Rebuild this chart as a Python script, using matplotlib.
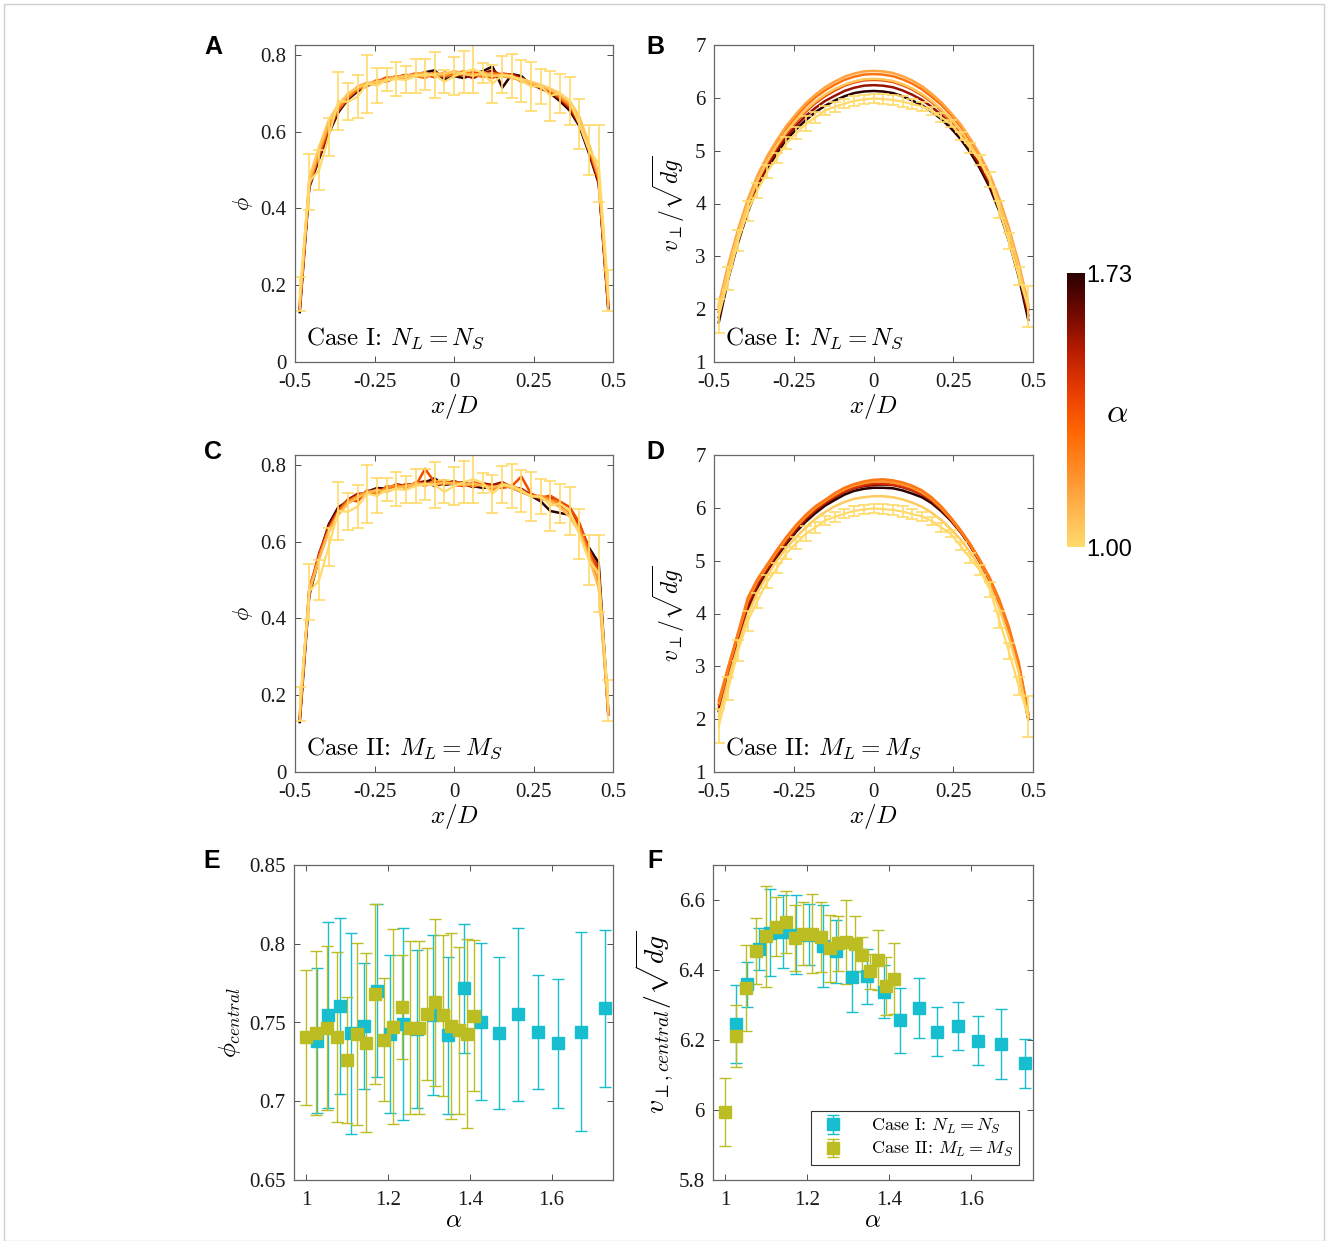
import numpy as np
import matplotlib
matplotlib.use("Agg")
import matplotlib.pyplot as plt
from matplotlib.colors import LinearSegmentedColormap, Normalize
from matplotlib.cm import ScalarMappable
from matplotlib.patches import Rectangle

plt.rcParams['mathtext.fontset'] = 'cm'
plt.rcParams['font.family'] = ['Liberation Serif', 'DejaVu Serif']

# ---- profile data (x/D grid) ----
x_pos = [-0.485, -0.455, -0.424, -0.394, -0.364, -0.333, -0.303, -0.273, -0.242, -0.212,
         -0.182, -0.152, -0.121, -0.091, -0.061, -0.030, 0.000, 0.030, 0.061, 0.091,
         0.121, 0.152, 0.182, 0.212, 0.242, 0.273, 0.303, 0.333, 0.364, 0.394,
         0.424, 0.455, 0.485]

# monodisperse reference (alpha = 1), same for both cases
phi_ref = [0.177, 0.47, 0.50, 0.587, 0.68, 0.678, 0.692, 0.725, 0.72, 0.735, 0.737, 0.735, 0.745,
           0.75, 0.748, 0.73, 0.745, 0.755, 0.763, 0.753, 0.725, 0.749, 0.745, 0.733, 0.718,
           0.718, 0.694, 0.70, 0.68, 0.62, 0.552, 0.518, 0.187]
phi_ref_err = [0.045, 0.073, 0.052, 0.05, 0.076, 0.048, 0.055, 0.075, 0.045, 0.03, 0.045, 0.035,
               0.045, 0.04, 0.06, 0.03, 0.05, 0.055, 0.063, 0.025, 0.05, 0.049, 0.058, 0.055,
               0.063, 0.045, 0.065, 0.05, 0.062, 0.065, 0.065, 0.10, 0.053]
v_ref = [1.87, 2.58, 3.30, 3.86, 4.24, 4.60, 4.86, 5.14, 5.33, 5.51, 5.63, 5.76, 5.83, 5.89, 5.94,
         5.97, 5.99, 5.975, 5.96, 5.93, 5.88, 5.84, 5.75, 5.63, 5.51, 5.28, 5.05, 4.82, 4.46,
         3.88, 3.29, 2.63, 2.05]
v_ref_err = [0.33, 0.22, 0.2, 0.19, 0.14, 0.12, 0.1, 0.11, 0.11, 0.14, 0.11, 0.09, 0.09, 0.085,
             0.09, 0.08, 0.09, 0.09, 0.09, 0.1, 0.09, 0.085, 0.08, 0.085, 0.07, 0.08, 0.1, 0.1,
             0.14, 0.16, 0.16, 0.17, 0.38]

# case I (N_L = N_S), listed from largest alpha to smallest
alpha_prof1 = [1.73, 1.57, 1.39, 1.27, 1.14, 1.054]
phi_case1 = [
    [0.13, 0.455, 0.53, 0.595, 0.65, 0.685, 0.705, 0.72, 0.73, 0.738, 0.742, 0.748, 0.745, 0.755, 0.76, 0.735, 0.745, 0.74, 0.75, 0.758, 0.77, 0.715, 0.75, 0.745, 0.722, 0.715, 0.70, 0.68, 0.655, 0.615, 0.545, 0.465, 0.14],
    [0.14, 0.46, 0.535, 0.60, 0.655, 0.69, 0.708, 0.725, 0.728, 0.735, 0.745, 0.74, 0.748, 0.752, 0.745, 0.742, 0.755, 0.748, 0.74, 0.752, 0.76, 0.745, 0.75, 0.74, 0.725, 0.712, 0.702, 0.685, 0.66, 0.62, 0.55, 0.47, 0.14],
    [0.14, 0.465, 0.54, 0.61, 0.655, 0.688, 0.71, 0.72, 0.73, 0.742, 0.738, 0.745, 0.752, 0.748, 0.742, 0.755, 0.745, 0.75, 0.755, 0.748, 0.74, 0.752, 0.748, 0.735, 0.722, 0.718, 0.705, 0.688, 0.665, 0.625, 0.555, 0.475, 0.15],
    [0.15, 0.46, 0.545, 0.615, 0.66, 0.69, 0.712, 0.722, 0.735, 0.73, 0.742, 0.748, 0.745, 0.74, 0.755, 0.745, 0.75, 0.758, 0.75, 0.742, 0.752, 0.75, 0.745, 0.73, 0.728, 0.715, 0.71, 0.69, 0.668, 0.628, 0.56, 0.48, 0.15],
    [0.15, 0.47, 0.55, 0.62, 0.665, 0.695, 0.718, 0.728, 0.725, 0.738, 0.745, 0.74, 0.75, 0.755, 0.745, 0.748, 0.758, 0.752, 0.745, 0.755, 0.748, 0.745, 0.74, 0.735, 0.725, 0.72, 0.708, 0.695, 0.672, 0.635, 0.565, 0.485, 0.16],
    [0.16, 0.48, 0.56, 0.63, 0.67, 0.70, 0.715, 0.725, 0.73, 0.735, 0.74, 0.745, 0.748, 0.745, 0.75, 0.752, 0.755, 0.75, 0.748, 0.75, 0.745, 0.748, 0.742, 0.738, 0.73, 0.722, 0.712, 0.70, 0.68, 0.64, 0.57, 0.49, 0.17],
]
v_case1 = [
    [1.75, 2.58, 3.27, 3.84, 4.29, 4.65, 4.95, 5.2, 5.41, 5.58, 5.73, 5.85, 5.95, 6.03, 6.09, 6.12, 6.13, 6.12, 6.09, 6.03, 5.95, 5.86, 5.74, 5.6, 5.43, 5.22, 4.97, 4.67, 4.31, 3.86, 3.3, 2.62, 1.8],
    [1.85, 2.65, 3.33, 3.9, 4.35, 4.71, 5.01, 5.26, 5.48, 5.66, 5.81, 5.94, 6.04, 6.13, 6.19, 6.23, 6.24, 6.23, 6.2, 6.14, 6.06, 5.96, 5.83, 5.68, 5.5, 5.28, 5.03, 4.73, 4.37, 3.92, 3.37, 2.69, 1.88],
    [1.95, 2.72, 3.4, 3.96, 4.41, 4.77, 5.07, 5.33, 5.55, 5.74, 5.9, 6.03, 6.14, 6.23, 6.29, 6.33, 6.34, 6.33, 6.3, 6.24, 6.16, 6.05, 5.92, 5.76, 5.57, 5.35, 5.09, 4.79, 4.43, 3.98, 3.43, 2.76, 1.98],
    [2.05, 2.8, 3.47, 4.03, 4.48, 4.85, 5.15, 5.42, 5.65, 5.85, 6.01, 6.14, 6.25, 6.34, 6.4, 6.44, 6.45, 6.44, 6.41, 6.35, 6.27, 6.16, 6.02, 5.87, 5.68, 5.46, 5.19, 4.89, 4.52, 4.06, 3.51, 2.84, 2.05],
    [2.1, 2.85, 3.52, 4.08, 4.53, 4.9, 5.2, 5.47, 5.7, 5.9, 6.06, 6.2, 6.31, 6.4, 6.46, 6.5, 6.51, 6.5, 6.47, 6.41, 6.33, 6.22, 6.08, 5.92, 5.72, 5.5, 5.23, 4.93, 4.56, 4.1, 3.55, 2.88, 2.1],
    [2.0, 2.75, 3.42, 3.98, 4.43, 4.8, 5.1, 5.36, 5.58, 5.77, 5.93, 6.06, 6.17, 6.25, 6.31, 6.35, 6.36, 6.35, 6.32, 6.26, 6.18, 6.07, 5.94, 5.78, 5.6, 5.38, 5.12, 4.82, 4.46, 4.01, 3.46, 2.79, 2.02],
]

# case II (M_L = M_S), largest alpha first
alpha_prof2_phi = [1.411, 1.315, 1.212, 1.123, 1.05]
phi_case2 = [
    [0.13, 0.46, 0.56, 0.645, 0.69, 0.705, 0.72, 0.73, 0.74, 0.738, 0.745, 0.748, 0.75, 0.755, 0.765, 0.748, 0.752, 0.755, 0.745, 0.74, 0.745, 0.75, 0.74, 0.73, 0.72, 0.705, 0.68, 0.675, 0.67, 0.645, 0.585, 0.545, 0.16],
    [0.14, 0.47, 0.57, 0.64, 0.685, 0.71, 0.725, 0.725, 0.738, 0.735, 0.75, 0.745, 0.752, 0.758, 0.745, 0.752, 0.758, 0.75, 0.742, 0.752, 0.748, 0.755, 0.742, 0.738, 0.722, 0.71, 0.715, 0.695, 0.68, 0.64, 0.575, 0.53, 0.15],
    [0.14, 0.48, 0.565, 0.635, 0.68, 0.71, 0.705, 0.735, 0.72, 0.745, 0.74, 0.75, 0.745, 0.79, 0.755, 0.76, 0.748, 0.745, 0.755, 0.748, 0.745, 0.74, 0.745, 0.77, 0.725, 0.715, 0.72, 0.705, 0.69, 0.65, 0.58, 0.52, 0.15],
    [0.15, 0.475, 0.56, 0.63, 0.675, 0.705, 0.72, 0.73, 0.728, 0.74, 0.748, 0.74, 0.755, 0.745, 0.76, 0.75, 0.755, 0.752, 0.745, 0.75, 0.735, 0.752, 0.745, 0.735, 0.718, 0.72, 0.71, 0.70, 0.675, 0.635, 0.57, 0.49, 0.16],
    [0.15, 0.47, 0.555, 0.625, 0.67, 0.70, 0.715, 0.728, 0.735, 0.73, 0.74, 0.745, 0.75, 0.752, 0.748, 0.755, 0.75, 0.748, 0.752, 0.745, 0.742, 0.748, 0.74, 0.73, 0.72, 0.715, 0.705, 0.69, 0.665, 0.625, 0.56, 0.48, 0.16],
]
alpha_prof2_v = [1.411, 1.334, 1.254, 1.10, 1.147, 1.025]
v_case2 = [
    [2.15, 2.85, 3.5, 4.08, 4.48, 4.8, 5.07, 5.32, 5.55, 5.74, 5.9, 6.04, 6.15, 6.25, 6.32, 6.36, 6.38, 6.38, 6.37, 6.33, 6.27, 6.2, 6.09, 5.94, 5.76, 5.54, 5.28, 4.98, 4.62, 4.18, 3.63, 2.95, 2.0],
    [2.2, 2.9, 3.55, 4.12, 4.52, 4.83, 5.1, 5.35, 5.58, 5.78, 5.94, 6.08, 6.2, 6.3, 6.37, 6.41, 6.43, 6.44, 6.43, 6.39, 6.33, 6.25, 6.13, 5.97, 5.78, 5.55, 5.29, 4.99, 4.63, 4.2, 3.66, 2.98, 2.02],
    [2.28, 2.95, 3.6, 4.2, 4.58, 4.87, 5.14, 5.39, 5.62, 5.81, 5.97, 6.1, 6.22, 6.31, 6.38, 6.43, 6.46, 6.46, 6.44, 6.4, 6.34, 6.26, 6.14, 5.98, 5.78, 5.55, 5.29, 4.99, 4.64, 4.22, 3.7, 3.03, 2.08],
    [2.3, 2.97, 3.62, 4.25, 4.62, 4.9, 5.17, 5.42, 5.65, 5.84, 6.0, 6.13, 6.25, 6.35, 6.42, 6.47, 6.5, 6.5, 6.48, 6.44, 6.38, 6.29, 6.17, 6.0, 5.8, 5.56, 5.3, 5.0, 4.65, 4.24, 3.72, 3.05, 2.1],
    [2.35, 3.0, 3.65, 4.3, 4.65, 4.93, 5.2, 5.45, 5.68, 5.87, 6.03, 6.15, 6.28, 6.38, 6.45, 6.5, 6.53, 6.54, 6.52, 6.48, 6.42, 6.33, 6.2, 6.03, 5.82, 5.58, 5.32, 5.02, 4.68, 4.27, 3.75, 3.08, 2.12],
    [2.05, 2.75, 3.4, 3.98, 4.4, 4.72, 5.0, 5.24, 5.45, 5.63, 5.79, 5.92, 6.03, 6.11, 6.17, 6.2, 6.22, 6.22, 6.2, 6.16, 6.1, 6.02, 5.91, 5.77, 5.6, 5.4, 5.16, 4.88, 4.53, 4.1, 3.56, 2.9, 2.0],
]

# ---- central values vs alpha ----
alpha1 = [1.027, 1.054, 1.082, 1.110, 1.140, 1.173, 1.205, 1.237, 1.270, 1.309, 1.346, 1.386,
          1.427, 1.471, 1.517, 1.566, 1.616, 1.671, 1.730]
phic1 = [0.7383, 0.7550, 0.7605, 0.7431, 0.7478, 0.7702, 0.7427, 0.7493, 0.746, 0.7548, 0.7419,
         0.7717, 0.7505, 0.7433, 0.7552, 0.7440, 0.7368, 0.7442, 0.7590]
phic1_err = [0.046, 0.059, 0.056, 0.064, 0.040, 0.055, 0.050, 0.061, 0.05, 0.051, 0.050, 0.041,
             0.050, 0.048, 0.055, 0.036, 0.041, 0.063, 0.050]
vc1 = [6.245, 6.359, 6.461, 6.507, 6.510, 6.501, 6.501, 6.469, 6.453, 6.379, 6.382, 6.338, 6.256,
       6.292, 6.223, 6.240, 6.198, 6.188, 6.134]
vc1_err = [0.112, 0.065, 0.060, 0.125, 0.104, 0.112, 0.088, 0.117, 0.089, 0.100, 0.079, 0.076,
           0.093, 0.085, 0.070, 0.069, 0.070, 0.100, 0.070]

alpha2 = [1.0, 1.025, 1.05, 1.075, 1.10, 1.123, 1.147, 1.169, 1.19, 1.212, 1.233, 1.254, 1.275,
          1.295, 1.315, 1.334, 1.353, 1.373, 1.392, 1.411]
phic2 = [0.7406, 0.7435, 0.7463, 0.7406, 0.7262, 0.7427, 0.7372, 0.7681, 0.7391, 0.7474, 0.7601,
         0.7467, 0.7467, 0.7556, 0.7630, 0.7545, 0.7478, 0.7452, 0.7427, 0.7543]
phic2_err = [0.043, 0.052, 0.052, 0.054, 0.040, 0.058, 0.057, 0.057, 0.039, 0.062, 0.033, 0.055,
             0.055, 0.042, 0.053, 0.051, 0.059, 0.053, 0.060, 0.048]
vc2 = [5.994, 6.212, 6.349, 6.455, 6.496, 6.524, 6.537, 6.491, 6.504, 6.504, 6.493, 6.462, 6.476,
       6.480, 6.475, 6.444, 6.396, 6.428, 6.354, 6.375]
vc2_err = [0.098, 0.089, 0.122, 0.095, 0.145, 0.084, 0.088, 0.094, 0.090, 0.113, 0.10, 0.096,
           0.079, 0.119, 0.079, 0.050, 0.049, 0.086, 0.082, 0.102]

cmap = LinearSegmentedColormap.from_list(
    "alpha", ["#FFDA6A", "#FFB24C", "#FF8A24", "#FF6400", "#E83C00", "#B81C00", "#700800", "#2A0000"])

W, H = 1328, 1241
fig = plt.figure(figsize=(W / 100, H / 100), dpi=100)
fig.patches.append(Rectangle((4 / W, 0), 1 - 8 / W, 1 - 4 / H, transform=fig.transFigure,
                             fill=False, edgecolor="#d0d0d0", lw=1.0))


def px_axes(l, t, r, b):
    return fig.add_axes([l / W, 1 - b / H, (r - l) / W, (b - t) / H])


def style(ax):
    ax.tick_params(direction="in", top=True, right=True, length=4, width=0.6,
                   colors="#333333", labelsize=15)
    ax.tick_params(axis="x", pad=8)
    ax.tick_params(axis="y", pad=6)
    ax.tick_params(labelcolor="#1a1a1a")
    for s in ax.spines.values():
        s.set_linewidth(0.9)
        s.set_color("#666666")


def profile(ax, alphas, curves, amax, ref, ref_err, ylim, yticks, ylabel, note):
    for a, c in zip(alphas, curves):
        ax.plot(x_pos, c, color=cmap((a - 1) / (amax - 1)), lw=1.8)
    ax.errorbar(x_pos, ref, yerr=ref_err, color=cmap(0.0), lw=1.6, elinewidth=1.2, capsize=4,
                capthick=1.2)
    ax.set_xlim(-0.5, 0.5)
    ax.set_ylim(*ylim)
    ax.set_xticks([-0.5, -0.25, 0, 0.25, 0.5])
    ax.set_xticklabels(["-0.5", "-0.25", "0", "0.25", "0.5"])
    ax.set_yticks(yticks)
    ax.set_yticklabels([f"{t:g}" for t in yticks])
    ax.set_xlabel(r"$x/D$", fontsize=18, labelpad=0)
    ax.text(0.035, 0.075, note, transform=ax.transAxes, fontsize=18, va="center",
            family="cmr10")
    style(ax)


note1 = r"Case I: $N_L = N_S$"
note2 = r"Case II: $M_L = M_S$"
vlabel = r"$v_{\perp}/\sqrt{dg}$"

axA = px_axes(295, 45, 613, 362)
profile(axA, alpha_prof1, phi_case1, 1.73, phi_ref, phi_ref_err, (0, 0.826),
        [0, 0.2, 0.4, 0.6, 0.8], r"$\phi$", note1)
axA.set_ylabel(r"$\phi$", fontsize=16, labelpad=4)
axB = px_axes(714, 45, 1033, 362)
profile(axB, alpha_prof1, v_case1, 1.73, v_ref, v_ref_err, (1, 7),
        [1, 2, 3, 4, 5, 6, 7], vlabel, note1)
axB.set_ylabel(vlabel, fontsize=17, labelpad=6)
axC = px_axes(295, 455, 613, 772)
profile(axC, alpha_prof2_phi, phi_case2, 1.411, phi_ref, phi_ref_err, (0, 0.826),
        [0, 0.2, 0.4, 0.6, 0.8], r"$\phi$", note2)
axC.set_ylabel(r"$\phi$", fontsize=16, labelpad=4)
axD = px_axes(714, 455, 1033, 772)
profile(axD, alpha_prof2_v, v_case2, 1.411, v_ref, v_ref_err, (1, 7),
        [1, 2, 3, 4, 5, 6, 7], vlabel, note2)
axD.set_ylabel(vlabel, fontsize=17, labelpad=6)

c1, c2 = "#17BECF", "#BCBD22"
ekw = dict(fmt="s", markersize=8, elinewidth=1.0, capsize=4.5, capthick=1.0)

axE = px_axes(294, 865, 613, 1180)
axE.errorbar(alpha1, phic1, yerr=phic1_err, color=c1, **ekw)
axE.errorbar(alpha2, phic2, yerr=phic2_err, color=c2, **ekw)
axE.set_xlim(0.97, 1.75)
axE.set_ylim(0.65, 0.85)
axE.set_xticks([1, 1.2, 1.4, 1.6])
axE.set_xticklabels(["1", "1.2", "1.4", "1.6"])
axE.set_yticks([0.65, 0.7, 0.75, 0.8, 0.85])
axE.set_yticklabels(["0.65", "0.7", "0.75", "0.8", "0.85"])
axE.set_xlabel(r"$\alpha$", fontsize=18, labelpad=0)
axE.set_ylabel(r"$\phi_{central}$", fontsize=18, labelpad=4)
style(axE)

axF = px_axes(713, 865, 1033, 1180)
hF1 = axF.errorbar(alpha1, vc1, yerr=vc1_err, color=c1, **ekw)
hF2 = axF.errorbar(alpha2, vc2, yerr=vc2_err, color=c2, **ekw)
axF.set_xlim(0.97, 1.75)
axF.set_ylim(5.8, 6.7)
axF.set_xticks([1, 1.2, 1.4, 1.6])
axF.set_xticklabels(["1", "1.2", "1.4", "1.6"])
axF.set_yticks([5.8, 6, 6.2, 6.4, 6.6])
axF.set_yticklabels(["5.8", "6", "6.2", "6.4", "6.6"])
axF.set_xlabel(r"$\alpha$", fontsize=18, labelpad=0)
axF.set_ylabel(r"$v_{\perp,central}/\sqrt{dg}$", fontsize=20, labelpad=2)
leg = axF.legend([hF1, hF2], [note1, note2], loc="lower right",
                 fancybox=False, edgecolor="#333333", framealpha=1, borderpad=0.3,
                 labelspacing=0.25, handletextpad=1.2, handlelength=1.8, borderaxespad=0,
                 bbox_to_anchor=(0.955, 0.048), prop={"family": "cmr10", "size": 13})
leg.get_frame().set_linewidth(0.8)
style(axF)

# colorbar
cax = px_axes(1067, 273, 1085, 547)
cb = fig.colorbar(ScalarMappable(norm=Normalize(1.0, 1.73), cmap=cmap), cax=cax)
cb.outline.set_visible(False)
cb.set_ticks([1.0, 1.73])
cb.set_ticklabels(["1.00", "1.73"])
cax.tick_params(length=0, labelsize=17, pad=1)
for t in cax.get_yticklabels():
    t.set_family("Liberation Sans")
fig.text(1117 / W, 1 - 414 / H, r"$\alpha$", fontsize=24, ha="center", va="center")

# panel letters
for lab, xp, yp in [("A", 213, 47), ("B", 655, 47), ("C", 213, 452), ("D", 655, 452),
                    ("E", 212, 861), ("F", 655, 861)]:
    fig.text(xp / W, 1 - yp / H, lab, fontsize=18, fontweight="bold",
             family="Liberation Sans", ha="center", va="center")

fig.savefig("out.png", dpi=100)
